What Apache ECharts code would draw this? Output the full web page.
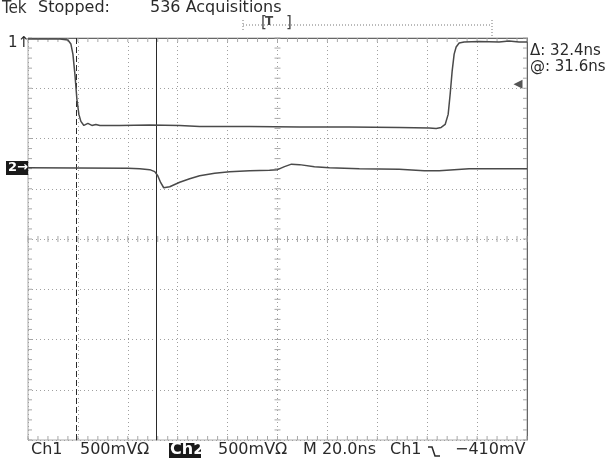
<!DOCTYPE html>
<html><head><meta charset="utf-8">
<script src="https://cdn.jsdelivr.net/npm/echarts@6/dist/echarts.min.js"></script>
<style>html,body{margin:0;padding:0;background:#fff}#c{width:613px;height:459px}</style>
</head><body><div id="c"></div>
<script>
// time in ns from left edge of screen (20 ns/div), amplitude in screen divisions
const ch1Time = [0,12.8,16,17.2,18,18.8,19.6,20.4,21.2,22.4,24,25.6,27.2,28.8,36.8,48.8,60.8,68.8,88.8,108.8,128.8,148.8,160.8,163.6,165.6,167.2,168.4,169.2,170,170.8,171.6,172.8,174.8,180.8,188.8,192.8,196.8,200];
const ch1Vals = [3.98,3.98,3.96,3.88,3.68,3.28,2.78,2.48,2.34,2.26,2.30,2.26,2.28,2.26,2.26,2.27,2.26,2.24,2.24,2.23,2.23,2.22,2.21,2.20,2.22,2.28,2.48,2.88,3.34,3.68,3.82,3.90,3.92,3.93,3.92,3.94,3.92,3.92];
const ch2Time = [0,40,44.8,48.8,50.8,52,53.2,54.4,55.2,56.8,60.8,64.8,68.8,74.8,80.8,88.8,96.8,100,102.8,105.6,108.8,114.8,120.8,132.8,148.8,158.8,164.8,170.8,176.8,200];
const ch2Vals = [1.42,1.41,1.40,1.38,1.34,1.26,1.12,1.02,1.00,1.04,1.13,1.20,1.26,1.31,1.34,1.36,1.37,1.38,1.44,1.49,1.48,1.44,1.42,1.40,1.39,1.36,1.36,1.38,1.40,1.40];
const cursorTimes = [19.2, 51.6];
const triggerLevelDiv = 3.08;
const headerText = ["Tek", "Stopped:", "536 Acquisitions"];
const readouts = ["\u0394: 32.4ns", "@: 31.6ns"];
const footer = ["Ch1", "500mV\u03A9", "Ch2", "500mV\u03A9", "M 20.0ns", "Ch1", "\u2212410mV"];

const ink = '#2a2a2a', trace = '#4a4a4a', grat = '#a0a0a0';
const F = '"DejaVu Sans", sans-serif';

// graticule tick marks (every 0.2 division)
const ticks = [];
for (let i = 0; i <= 50; i++) { const t = i * 4; ticks.push([t, 0, 'v', 3]); ticks.push([t, 4, 'vd', 4]); ticks.push([t, -4, 'vu', 4]); }
for (let i = 0; i <= 40; i++) { const y = -4 + i * 0.2; ticks.push([100, y, 'h', 3]); ticks.push([0, y, 'hr', 4]); ticks.push([200, y, 'hl', 4]); }

const chart = echarts.init(document.getElementById('c'), null, {renderer: 'canvas'});
const txt = (x, y, s, size, extra) => Object.assign({type: 'text', x: x, y: y, style: Object.assign({text: s, fill: ink, font: (size||16) + 'px ' + F}, extra && extra.style || {})}, extra && extra.el || {});
const hidden = {axisTick: {show: false}, axisLabel: {show: false}, splitLine: {show: false}};

chart.setOption({
  animation: false,
  backgroundColor: '#fff',
  grid: {left: 28, right: 86, top: 38, bottom: 19, show: true, borderColor: '#aaa', borderWidth: 1},
  xAxis: [
    {type: 'value', min: 0, max: 200, interval: 20, axisLine: {show: false}, axisTick: {show: false}, axisLabel: {show: false},
      splitLine: {show: true, lineStyle: {color: grat, type: [1, 3], width: 1}}},
    Object.assign({type: 'value', position: 'top', min: 0, max: 200, interval: 20, axisLine: {show: true, onZero: false, lineStyle: {color: '#666', width: 1}}}, hidden)
  ],
  yAxis: [
    {type: 'value', min: -4, max: 4, interval: 1, axisLine: {show: false}, axisTick: {show: false}, axisLabel: {show: false},
      splitLine: {show: true, lineStyle: {color: grat, type: [1, 3], width: 1}}},
    Object.assign({type: 'value', position: 'right', min: -4, max: 4, interval: 1, axisLine: {show: true, onZero: false, lineStyle: {color: '#666', width: 1}}}, hidden)
  ],
  series: [
    {type: 'custom', silent: true, z: 1, data: ticks,
      renderItem: function (params, api) {
        const p = api.coord([api.value(0), api.value(1)]);
        const d = ticks[params.dataIndex][2], L = ticks[params.dataIndex][3];
        let s;
        if (d === 'v') s = {x1: p[0], y1: p[1] - L, x2: p[0], y2: p[1] + L};
        else if (d === 'vd') s = {x1: p[0], y1: p[1], x2: p[0], y2: p[1] + L};
        else if (d === 'vu') s = {x1: p[0], y1: p[1], x2: p[0], y2: p[1] - L};
        else if (d === 'h') s = {x1: p[0] - L, y1: p[1], x2: p[0] + L, y2: p[1]};
        else if (d === 'hr') s = {x1: p[0], y1: p[1], x2: p[0] + L, y2: p[1]};
        else s = {x1: p[0], y1: p[1], x2: p[0] - L, y2: p[1]};
        return {type: 'line', shape: s, style: {stroke: '#a8a8a8', lineWidth: 1}};
      }},
    {type: 'line', name: 'Ch1', data: ch1Time.map((t, i) => [t, ch1Vals[i]]), showSymbol: false, symbol: 'none', z: 5,
      lineStyle: {color: trace, width: 1.5},
      markLine: {silent: true, symbol: 'none', label: {show: false},
        data: [
          {xAxis: cursorTimes[0], lineStyle: {color: ink, type: [6, 3], width: 1}},
          {xAxis: cursorTimes[1], lineStyle: {color: ink, type: 'solid', width: 1}}
        ]}},
    {type: 'line', name: 'Ch2', data: ch2Time.map((t, i) => [t, ch2Vals[i]]), showSymbol: false, symbol: 'none', z: 5,
      lineStyle: {color: trace, width: 1.5}},
    {type: 'scatter', data: [[200, triggerLevelDiv]], symbol: 'triangle', symbolSize: [9, 9], symbolRotate: 90, symbolOffset: [-9, 0],
      itemStyle: {color: ink}, z: 6, silent: true}
  ],
  graphic: [
    {type: 'group', silent: true, children: [
      txt(2, 0, headerText[0], 17, {style: {font: '17px "Liberation Sans Narrow", "DejaVu Sans Condensed", sans-serif', fill: '#333'}}),
      txt(38, 0, headerText[1], 16),
      txt(150, 0, headerText[2], 16),
      // trigger position indicator
      {type: 'line', shape: {x1: 243, y1: 25, x2: 492, y2: 25}, style: {stroke: '#777', lineWidth: 1, lineDash: [1, 2]}},
      {type: 'line', shape: {x1: 243, y1: 20, x2: 243, y2: 30}, style: {stroke: '#777', lineWidth: 1, lineDash: [1, 2]}},
      {type: 'line', shape: {x1: 492, y1: 20, x2: 492, y2: 38}, style: {stroke: '#777', lineWidth: 1, lineDash: [1, 2]}},
      txt(261, 16, '[', 15, {style: {font: '15px ' + F, fill: '#444'}}),
      txt(265, 16, 'T', 12, {style: {font: 'bold 12px ' + F, fill: '#444'}}),
      txt(286, 16, ']', 15, {style: {font: '15px ' + F, fill: '#444'}}),
      // channel markers
      txt(8, 36, '1\u2191', 15),
      {type: 'rect', shape: {x: 6, y: 161, width: 22, height: 14}, style: {fill: '#1a1a1a'}},
      txt(8, 161, '2\u2192', 13, {style: {font: 'bold 13px ' + F, fill: '#fff'}}),
      // readouts
      txt(530, 44, readouts[0], 15),
      txt(530, 60, readouts[1], 15),
      // footer
      txt(31, 442, footer[0], 16),
      txt(80, 442, footer[1], 16),
      {type: 'rect', shape: {x: 169, y: 443, width: 32, height: 15}, style: {fill: '#1a1a1a'}},
      txt(170, 442, footer[2], 16, {style: {font: 'bold 16px ' + F, fill: '#fff'}}),
      txt(218, 442, footer[3], 16),
      txt(303, 442, footer[4], 16),
      txt(390, 442, footer[5], 16),
      {type: 'polyline', shape: {points: [[428, 447], [432, 447], [435, 456], [440, 456]]}, style: {stroke: ink, lineWidth: 1.5, fill: null}},
      txt(455, 442, footer[6], 16)
    ]}
  ]
});
</script>
</body></html>
